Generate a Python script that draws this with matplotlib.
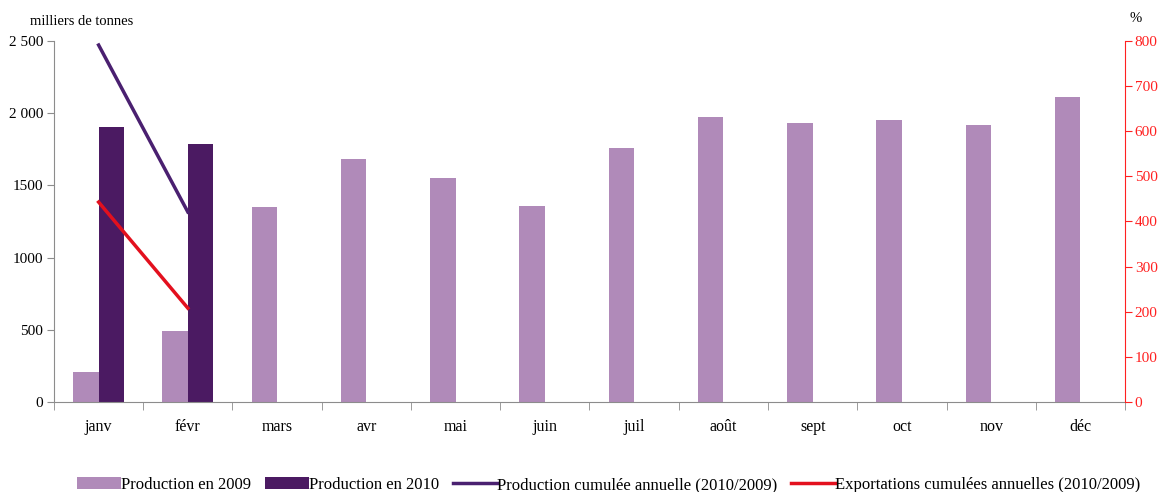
import matplotlib
matplotlib.use("Agg")
import matplotlib.pyplot as plt
import numpy as np
from matplotlib.patches import Patch
from matplotlib.lines import Line2D

months = ["janv", "févr", "mars", "avr", "mai", "juin", "juil", "août", "sept", "oct", "nov", "déc"]
prod_2009 = [208, 492, 1350, 1683, 1551, 1357, 1759, 1974, 1932, 1953, 1918, 2112]
prod_2010 = [1904, 1787]
cumul_prod_ratio = [791, 421]
cumul_export_ratio = [443, 208]

left_ticks = [0, 500, 1000, 1500, 2000, 2500]
left_tick_labels = ["0", "500", "1000", "1500", "2 000", "2 500"]
right_ticks = [0, 100, 200, 300, 400, 500, 600, 700, 800]

c2009 = "#B08AB9"
c2010 = "#4B1A62"
c_line_prod = "#4A2070"
c_line_exp = "#E3101E"
grey = "#8C8C8C"
red_axis = "#FF2020"

plt.rcParams["font.family"] = ["Liberation Serif", "DejaVu Serif"]
plt.rcParams["font.size"] = 10.5

fig = plt.figure(figsize=(11.61, 4.92), dpi=100)
ax = fig.add_axes([0.0465, 0.1829, 0.9225, 0.7338])
ax2 = ax.twinx()

x = np.arange(len(months))
w = 0.286
ax.bar(x - w / 2, prod_2009, width=w, color=c2009, zorder=2)
ax.bar(x[:len(prod_2010)] + w / 2, prod_2010, width=w, color=c2010, zorder=2)

ax.set_xlim(-0.5, len(months) - 0.5)
ax.set_ylim(0, 2500)
ax.set_yticks(left_ticks)
ax.set_yticklabels(left_tick_labels)
ax.set_xticks(x)
ax.set_xticklabels(months, fontsize=11.5)
ax.set_xticks(np.arange(-0.5, len(months) + 0.5, 1), minor=True)
ax.tick_params(axis="x", which="major", length=0, pad=12)
ax.tick_params(axis="x", which="minor", length=6, direction="out", color=grey)
ax.tick_params(axis="y", length=5, direction="out", color=grey, pad=3, labelsize=11)

for s in ["top", "right"]:
    ax.spines[s].set_visible(False)
ax.spines["left"].set_color(grey)
ax.spines["bottom"].set_color(grey)

ax2.plot(x[:len(cumul_prod_ratio)], cumul_prod_ratio, color=c_line_prod, lw=2.5, zorder=3)
ax2.plot(x[:len(cumul_export_ratio)], cumul_export_ratio, color=c_line_exp, lw=2.5, zorder=3)
ax2.set_ylim(0, 800)
ax2.set_yticks(right_ticks)
ax2.tick_params(axis="y", length=5, direction="out", colors=red_axis, pad=2, labelsize=11)
for s in ["top", "left", "bottom"]:
    ax2.spines[s].set_visible(False)
ax2.spines["right"].set_color(red_axis)

fig.text(0.026, 0.957, "milliers de tonnes", ha="left", va="center", fontsize=10.5)
fig.text(0.978, 0.962, "%", ha="center", va="center", fontsize=10.5)

handles = [
    Patch(facecolor=c2009, label="Production en 2009"),
    Patch(facecolor=c2010, label="Production en 2010"),
    Line2D([], [], color=c_line_prod, lw=2.5, label="Production cumulée annuelle (2010/2009)"),
    Line2D([], [], color=c_line_exp, lw=2.5, label="Exportations cumulées annuelles (2010/2009)"),
]
fig.legend(handles=handles, loc="center", bbox_to_anchor=(0.524, 0.014), ncol=4,
           frameon=False, fontsize=12, handlelength=2.64, handleheight=0.72,
           handletextpad=0.0, columnspacing=0.84, borderpad=0.0)

fig.savefig("out.png", dpi=100)
